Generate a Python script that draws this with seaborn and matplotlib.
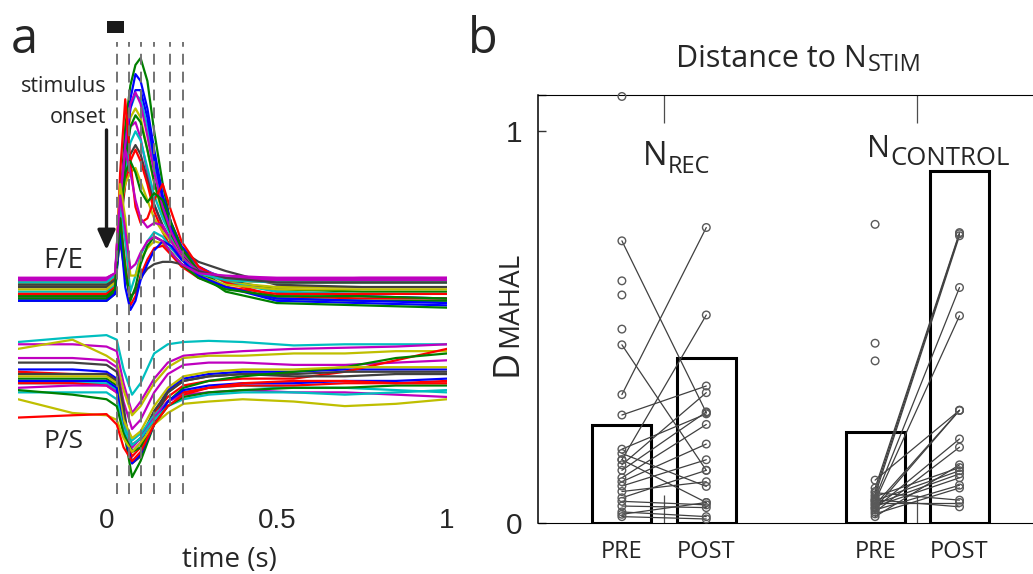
import numpy as np
import pandas as pd
import matplotlib
matplotlib.use("Agg")
import matplotlib.pyplot as plt
from matplotlib.patches import Rectangle
import seaborn as sns

# ---------------- panel a: evoked traces (display units) ----------------
t_fe = [-0.26, 0.0, 0.025, 0.04, 0.055, 0.07, 0.085, 0.1, 0.12, 0.14, 0.165, 0.19,
        0.22, 0.27, 0.35, 0.5, 0.75, 1.0]
fe_traces = [
    [-0.03, -0.03, 0.0, 0.35, 0.7, 0.88, 0.97, 1.0, 0.9, 0.68, 0.45, 0.27, 0.17, 0.08, 0.03, -0.01, -0.02, -0.02],
    [0.0, 0.0, 0.02, 0.3, 0.62, 0.82, 0.93, 0.9, 0.78, 0.6, 0.4, 0.28, 0.18, 0.09, 0.03, -0.02, -0.04, -0.05],
    [0.03, 0.03, 0.05, 0.3, 0.6, 0.78, 0.84, 0.82, 0.7, 0.52, 0.36, 0.25, 0.16, 0.08, 0.04, 0.03, 0.03, 0.03],
    [0.01, 0.01, 0.04, 0.35, 0.6, 0.74, 0.78, 0.74, 0.6, 0.45, 0.32, 0.22, 0.14, 0.07, 0.02, 0.0, 0.0, 0.0],
    [0.04, 0.04, 0.06, 0.32, 0.55, 0.7, 0.72, 0.65, 0.5, 0.36, 0.26, 0.2, 0.13, 0.07, 0.04, 0.04, 0.04, 0.04],
    [0.0, 0.0, 0.03, 0.25, 0.45, 0.58, 0.62, 0.58, 0.47, 0.36, 0.27, 0.2, 0.16, 0.11, 0.07, 0.01, 0.0, 0.0],
    [0.02, 0.02, 0.04, 0.3, 0.45, 0.55, 0.6, 0.55, 0.45, 0.33, 0.24, 0.17, 0.12, 0.06, 0.03, 0.02, 0.02, 0.02],
    [-0.05, -0.05, -0.02, 0.28, 0.58, 0.78, 0.86, 0.86, 0.74, 0.56, 0.38, 0.26, 0.16, 0.07, 0.0, -0.06, -0.07, -0.08],
    [-0.02, -0.02, 0.01, 0.3, 0.5, 0.63, 0.68, 0.64, 0.52, 0.4, 0.3, 0.22, 0.15, 0.08, 0.02, -0.02, -0.03, -0.03],
    [0.02, 0.02, 0.05, 0.35, 0.45, 0.5, 0.52, 0.46, 0.38, 0.3, 0.24, 0.2, 0.14, 0.07, 0.03, 0.02, 0.02, 0.02],
    [-0.06, -0.06, -0.03, 0.3, 0.55, 0.7, 0.75, 0.72, 0.6, 0.46, 0.33, 0.23, 0.15, 0.06, -0.02, -0.07, -0.08, -0.09],
    [0.03, 0.03, 0.05, 0.32, 0.62, 0.8, 0.85, 0.8, 0.66, 0.5, 0.35, 0.24, 0.15, 0.08, 0.04, 0.03, 0.04, 0.04],
    [-0.04, -0.04, 0.0, 0.5, 0.82, 0.55, 0.35, 0.28, 0.3, 0.38, 0.45, 0.33, 0.2, 0.09, 0.02, -0.04, -0.05, -0.05],
    [-0.05, -0.05, -0.02, 0.3, 0.5, 0.55, 0.5, 0.42, 0.37, 0.41, 0.38, 0.28, 0.17, 0.07, 0.0, -0.05, -0.06, -0.06],
    [0.03, 0.03, 0.05, 0.4, 0.6, 0.5, 0.38, 0.3, 0.26, 0.28, 0.27, 0.2, 0.13, 0.07, 0.04, 0.03, 0.03, 0.03],
    [0.02, 0.02, 0.05, 0.35, 0.2, -0.02, 0.05, 0.14, 0.2, 0.24, 0.22, 0.17, 0.12, 0.06, 0.03, 0.02, 0.02, 0.02],
    [-0.01, -0.01, 0.02, 0.45, 0.3, 0.05, 0.05, 0.12, 0.17, 0.2, 0.19, 0.15, 0.1, 0.05, 0.01, -0.01, -0.01, -0.01],
    [-0.03, -0.03, 0.0, 0.3, 0.1, -0.08, -0.04, 0.05, 0.12, 0.17, 0.18, 0.14, 0.09, 0.04, 0.0, -0.03, -0.03, -0.03],
    [0.01, 0.01, 0.03, 0.2, 0.05, -0.04, -0.02, 0.04, 0.08, 0.1, 0.11, 0.11, 0.1, 0.07, 0.04, 0.02, 0.02, 0.02],
    [-0.06, -0.06, -0.03, 0.25, 0.0, -0.1, -0.06, 0.03, 0.1, 0.16, 0.2, 0.18, 0.12, 0.05, 0.0, -0.05, -0.06, -0.07],
    [-0.04, -0.04, -0.01, 0.3, 0.08, -0.06, 0.0, 0.1, 0.18, 0.22, 0.2, 0.15, 0.1, 0.04, -0.01, -0.04, -0.04, -0.05],
    [0.04, 0.04, 0.06, 0.4, 0.25, 0.08, 0.1, 0.15, 0.2, 0.22, 0.2, 0.15, 0.1, 0.06, 0.05, 0.04, 0.04, 0.04],
]
fe_colors = ["g", "b", "c", "y", "m", "k", "r", "b", "c", "y", "g", "m",
             "r", "g", "m", "c", "y", "r", "k", "b", "g", "m"]

t_ps = [-0.26, -0.1, 0.0, 0.03, 0.05, 0.075, 0.1, 0.14, 0.18, 0.226, 0.3, 0.4, 0.55, 0.7, 0.85, 1.0]
ps_traces = [
    [-0.24, -0.22, -0.21, -0.23, -0.36, -0.47, -0.42, -0.29, -0.25, -0.24, -0.235, -0.24, -0.255, -0.25, -0.25, -0.25],
    [-0.25, -0.25, -0.26, -0.28, -0.42, -0.55, -0.5, -0.4, -0.33, -0.3, -0.29, -0.28, -0.27, -0.265, -0.26, -0.25],
    [-0.27, -0.23, -0.3, -0.33, -0.45, -0.56, -0.52, -0.42, -0.35, -0.31, -0.3, -0.3, -0.29, -0.29, -0.28, -0.28],
    [-0.31, -0.31, -0.32, -0.35, -0.5, -0.62, -0.58, -0.46, -0.38, -0.34, -0.33, -0.33, -0.34, -0.34, -0.33, -0.32],
    [-0.36, -0.36, -0.37, -0.4, -0.55, -0.72, -0.68, -0.55, -0.45, -0.4, -0.38, -0.37, -0.37, -0.36, -0.36, -0.36],
    [-0.37, -0.38, -0.38, -0.41, -0.6, -0.7, -0.66, -0.55, -0.48, -0.43, -0.41, -0.4, -0.40, -0.37, -0.32, -0.27],
    [-0.33, -0.33, -0.34, -0.37, -0.52, -0.77, -0.74, -0.58, -0.46, -0.41, -0.39, -0.38, -0.38, -0.37, -0.37, -0.37],
    [-0.38, -0.38, -0.38, -0.41, -0.57, -0.69, -0.66, -0.54, -0.46, -0.41, -0.39, -0.38, -0.39, -0.39, -0.38, -0.38],
    [-0.40, -0.40, -0.40, -0.43, -0.62, -0.83, -0.76, -0.6, -0.5, -0.44, -0.41, -0.39, -0.37, -0.35, -0.31, -0.29],
    [-0.42, -0.42, -0.42, -0.45, -0.6, -0.67, -0.64, -0.56, -0.5, -0.46, -0.44, -0.43, -0.44, -0.44, -0.45, -0.46],
    [-0.42, -0.42, -0.43, -0.46, -0.62, -0.74, -0.7, -0.58, -0.5, -0.46, -0.44, -0.43, -0.43, -0.42, -0.42, -0.41],
    [-0.44, -0.43, -0.43, -0.46, -0.62, -0.7, -0.66, -0.57, -0.5, -0.47, -0.46, -0.45, -0.46, -0.46, -0.47, -0.48],
    [-0.39, -0.39, -0.39, -0.42, -0.58, -0.66, -0.63, -0.52, -0.44, -0.39, -0.37, -0.36, -0.36, -0.35, -0.35, -0.35],
    [-0.41, -0.41, -0.41, -0.44, -0.63, -0.77, -0.73, -0.6, -0.5, -0.45, -0.43, -0.42, -0.42, -0.41, -0.41, -0.40],
    [-0.46, -0.46, -0.46, -0.49, -0.62, -0.69, -0.66, -0.58, -0.52, -0.49, -0.47, -0.46, -0.46, -0.47, -0.46, -0.45],
    [-0.45, -0.47, -0.49, -0.52, -0.64, -0.72, -0.7, -0.6, -0.52, -0.48, -0.46, -0.45, -0.44, -0.44, -0.43, -0.43],
    [-0.49, -0.55, -0.56, -0.58, -0.66, -0.72, -0.68, -0.6, -0.55, -0.51, -0.5, -0.49, -0.5, -0.52, -0.51, -0.49],
    [-0.57, -0.56, -0.555, -0.6, -0.7, -0.76, -0.72, -0.6, -0.52, -0.47, -0.44, -0.42, -0.41, -0.41, -0.42, -0.42],
]
ps_colors = ["c", "m", "y", "m", "b", "r", "k", "k", "g", "c", "r", "m", "y", "b", "c", "g", "y", "r"]

window_times = [0.03, 0.065, 0.1, 0.14, 0.185, 0.225]
stim_duration = 0.052

# ---------------- panel b: Mahalanobis distances ----------------
bar_pos = [1, 2, 4, 5]
bar_labels = ["PRE", "POST", "PRE", "POST"]
bar_heights = [0.250, 0.421, 0.232, 0.898]

rec_pre = [0.720, 0.455, 0.328, 0.276, 0.189, 0.178, 0.162, 0.162, 0.149, 0.135,
           0.116, 0.106, 0.095, 0.081, 0.065, 0.056, 0.044, 0.029, 0.017, 0.023]
rec_post = [0.282, 0.135, 0.754, 0.350, 0.279, 0.094, 0.531, 0.053, 0.333, 0.284,
            0.252, 0.202, 0.162, 0.106, 0.135, 0.047, 0.040, 0.017, 0.011, 0.053]
rec_pre_only = [1.088, 0.618, 0.582, 0.495]

ctl_pre = [0.110, 0.090, 0.081, 0.072, 0.063, 0.056, 0.047, 0.038, 0.029, 0.017,
           0.068, 0.058, 0.049, 0.043, 0.034, 0.024, 0.078, 0.053, 0.060, 0.039]
ctl_post = [0.288, 0.741, 0.738, 0.733, 0.601, 0.529, 0.288, 0.215, 0.194, 0.149,
            0.142, 0.134, 0.126, 0.116, 0.097, 0.090, 0.059, 0.053, 0.042, 0.288]
ctl_pre_only = [0.762, 0.459, 0.414]

# ---------------- style ----------------
sns.set_theme(style="white")
plt.rcParams["font.family"] = ["Open Sans", "DejaVu Sans"]
matlab = {"b": (0, 0, 1), "g": (0, 0.5, 0), "r": (1, 0, 0), "c": (0, 0.75, 0.75),
          "m": (0.75, 0, 0.75), "y": (0.75, 0.75, 0), "k": (0.25, 0.25, 0.25)}

W, H = 1033, 574
fig = plt.figure(figsize=(W / 100, H / 100), dpi=100)


def fx(px):
    return px / W


def fy(py):
    return 1 - py / H


# ---------------- panel a ----------------
ax_a = fig.add_axes([fx(18), fy(500), (447 - 18) / W, (500 - 15) / H])

rows = []
for i, tr in enumerate(fe_traces):
    for t, v in zip(t_fe, tr):
        rows.append({"trace": f"fe{i:02d}", "t": t, "v": v})
for i, tr in enumerate(ps_traces):
    for t, v in zip(t_ps, tr):
        rows.append({"trace": f"ps{i:02d}", "t": t, "v": v})
df_a = pd.DataFrame(rows)
order = [f"fe{i:02d}" for i in range(len(fe_traces))] + [f"ps{i:02d}" for i in range(len(ps_traces))]
pal = [matlab[c] for c in fe_colors] + [matlab[c] for c in ps_colors]
sns.lineplot(data=df_a, x="t", y="v", hue="trace", hue_order=order, palette=pal,
             estimator=None, sort=False, legend=False, lw=1.6, ax=ax_a)

ax_a.vlines(window_times, -0.904, 1.07, colors="0.45", lw=1.4,
            linestyles=[(0, (5.6, 3.6))], zorder=5)
ax_a.add_patch(Rectangle((0.0, 1.109), stim_duration, 0.053, color="0.1", lw=0))
ax_a.annotate("", xy=(0.0, 0.162), xytext=(0.0, 0.686),
              arrowprops=dict(arrowstyle="-|>,head_length=0.6,head_width=0.27",
                              lw=2.4, color="0.1", mutation_scale=20, shrinkA=0, shrinkB=0))

ax_a.set_xlim(-0.26, 1.0)
ax_a.set_ylim(-0.930, 1.188)
ax_a.set_xticks([0, 0.5, 1])
ax_a.set_xticklabels(["0", "0.5", "1"])
ax_a.set_yticks([])
ax_a.tick_params(axis="x", length=0, pad=6, labelsize=20)
for lbl in ax_a.get_xticklabels():
    lbl.set_fontfamily("Liberation Sans")
ax_a.set_xlabel("")
ax_a.set_ylabel("")
for s in ax_a.spines.values():
    s.set_visible(False)
ax_a.patch.set_alpha(0)

fig.text(fx(229), fy(567), "time (s)", ha="center", va="baseline", fontsize=20)
fig.text(fx(106), fy(92), "stimulus", ha="right", va="baseline", fontsize=15.5)
fig.text(fx(106), fy(123), "onset", ha="right", va="baseline", fontsize=15.5)
fig.text(fx(43), fy(268), "F/E", ha="left", va="baseline", fontsize=20)
fig.text(fx(43), fy(448), "P/S", ha="left", va="baseline", fontsize=19)
fig.text(fx(11), fy(53), "a", ha="left", va="baseline", fontsize=35)
fig.text(fx(468), fy(53), "b", ha="left", va="baseline", fontsize=35)

# ---------------- panel b ----------------
b_top = 94.7
ax_b = fig.add_axes([fx(537.5), fy(523.3), (W - 537.5) / W, (523.3 - b_top) / H])

sns.barplot(x=bar_pos, y=bar_heights, native_scale=True, width=0.7, color="white",
            edgecolor="black", linewidth=2.2, errorbar=None, ax=ax_b, zorder=1)

pair_rows = []
for k, (a, b) in enumerate(zip(rec_pre, rec_post)):
    pair_rows += [{"pair": f"r{k}", "x": 1, "v": a}, {"pair": f"r{k}", "x": 2, "v": b}]
for k, (a, b) in enumerate(zip(ctl_pre, ctl_post)):
    pair_rows += [{"pair": f"c{k}", "x": 4, "v": a}, {"pair": f"c{k}", "x": 5, "v": b}]
df_pairs = pd.DataFrame(pair_rows)
sns.lineplot(data=df_pairs, x="x", y="v", units="pair", estimator=None, sort=False,
             color="0.25", lw=0.9, ax=ax_b, zorder=2)

px_all = [1] * len(rec_pre) + [2] * len(rec_post) + [1] * len(rec_pre_only) \
    + [4] * len(ctl_pre) + [5] * len(ctl_post) + [4] * len(ctl_pre_only)
pv_all = rec_pre + rec_post + rec_pre_only + ctl_pre + ctl_post + ctl_pre_only
ax_b.scatter(px_all, pv_all, s=30, facecolors="none", edgecolors="0.35",
             linewidths=1.0, zorder=3, clip_on=False)

y_top = 1.0925
ax_b.set_xlim(0, (W - 537.5) / 84.4)
ax_b.set_ylim(0, y_top)
ax_b.set_xlabel("")
ax_b.set_ylabel("")

ax_b.set_xticks([1.5, 4.5])
ax_b.set_xticklabels([])
ax_b.set_xticks(bar_pos, minor=True)
ax_b.set_xticklabels(bar_labels, minor=True)
ax_b.tick_params(axis="x", which="major", direction="in", length=20.5, width=0.9,
                 color="0.3", top=True, bottom=True)
ax_b.tick_params(axis="x", which="minor", length=0, pad=12, labelsize=17)
ax_b.set_yticks([0, 1, y_top])
ax_b.set_yticklabels(["0", "1", ""])
ax_b.tick_params(axis="y", direction="in", length=6, width=1.0, color="0.2",
                 pad=11, labelsize=21.5, left=True)
for lbl in ax_b.get_yticklabels():
    lbl.set_fontfamily("Liberation Sans")

ax_b.spines["right"].set_visible(False)
ax_b.spines["left"].set_linewidth(1.1)
ax_b.spines["top"].set_linewidth(0.8)
ax_b.spines["bottom"].set_linewidth(0.8)
for s in ax_b.spines.values():
    s.set_color("black")


def sub_text(x, y, main, sub, size, subsize, drop_px):
    # main text with its baseline at (x, y); subscript starts where it ends
    t = fig.text(fx(x), fy(y), main, ha="left", va="baseline", fontsize=size)
    descent = 0.24 * size
    ax_b.annotate(sub, xy=(1, 0), xycoords=t,
                  xytext=(0.5, descent - drop_px * 0.72),
                  textcoords="offset points", ha="left", va="baseline",
                  fontsize=subsize, annotation_clip=False)


sub_text(676.5, 66.7, "Distance to N", "STIM", 22, 17, 5)
sub_text(643, 165, "N", "REC", 23.5, 17, 8.3)
sub_text(867, 156.7, "N", "CONTROL", 22, 18.5, 9)

fig.text(fx(517), fy(376), "D", rotation=90, rotation_mode="anchor",
         ha="left", va="baseline", fontsize=26)
fig.text(fx(517), fy(347), "MAHAL", rotation=90, rotation_mode="anchor",
         ha="left", va="baseline", fontsize=20)

fig.savefig("out.png", dpi=100)
